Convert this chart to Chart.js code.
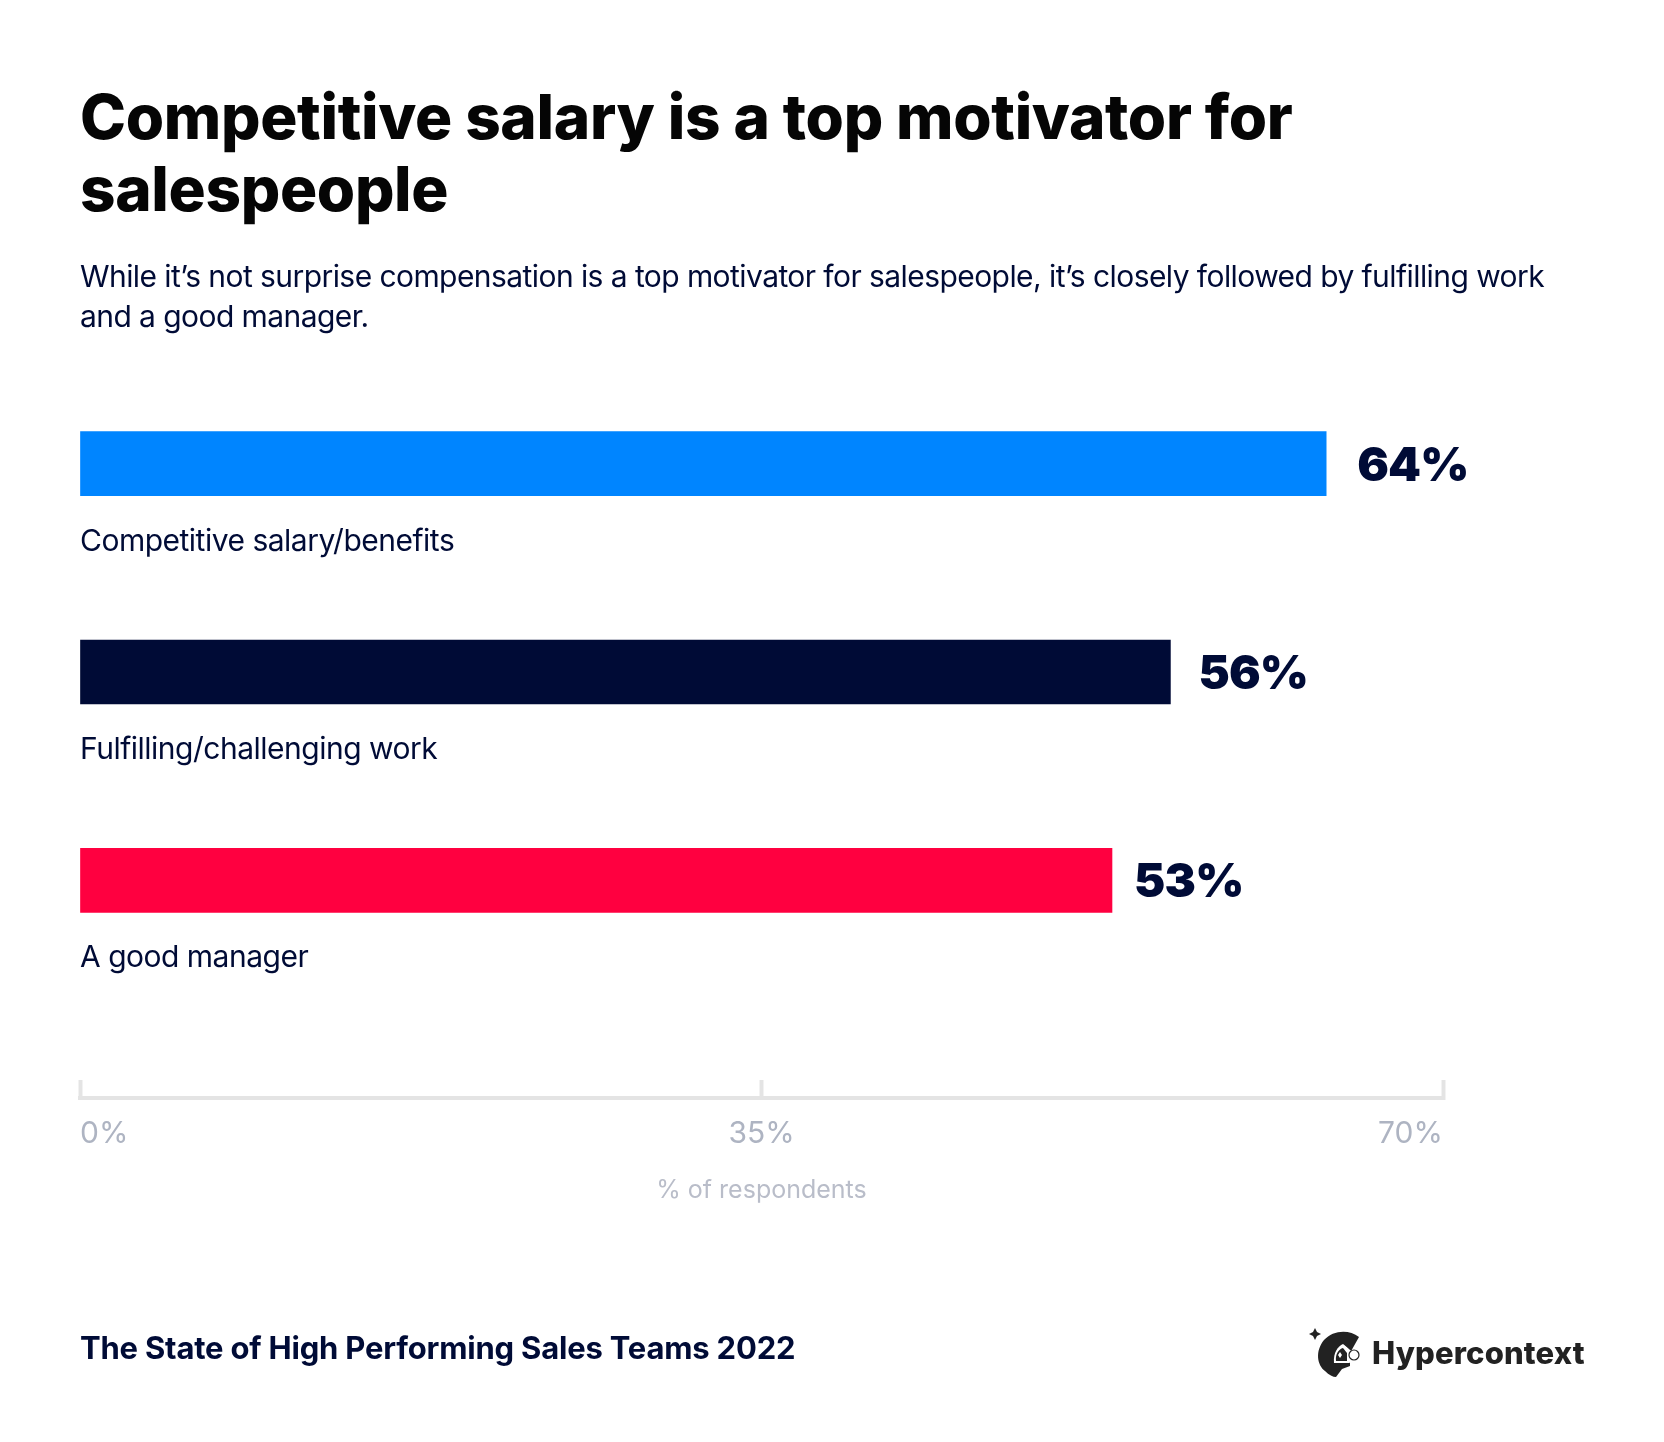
<!DOCTYPE html>
<html>
<head>
<meta charset="utf-8">
<script src="https://cdn.jsdelivr.net/npm/chart.js@4"></script>
<style>
  html, body { margin: 0; padding: 0; background: #fff; }
  #page { position: relative; width: 1664px; height: 1442px; overflow: hidden; font-family: Inter, sans-serif; color: #000b36; }
  #page div { position: absolute; white-space: nowrap; }
  canvas { position: absolute; left: 0; top: 0; }
  #title { left: 80px; top: 80.5px; font-size: 62px; line-height: 72px; font-weight: 800; color: #050505; letter-spacing: -0.33px; }
  #subtitle { left: 80px; top: 256px; font-size: 30px; line-height: 40px; letter-spacing: -0.57px; }
  #source { left: 80px; top: 1328px; font-size: 31px; line-height: 40px; font-weight: 700; letter-spacing: -0.2px; }
  #brand { left: 1372px; top: 1333px; font-size: 31px; line-height: 40px; font-weight: 800; letter-spacing: 0.15px; color: #222; }
  svg { position: absolute; left: 1305px; top: 1325px; }
</style>
</head>
<body>
<div id="page">
  <canvas id="barChart" width="1664" height="1442"></canvas>
  <div id="title">Competitive salary is a top motivator for<br>salespeople</div>
  <div id="subtitle">While it’s not surprise compensation is a top motivator for salespeople, it’s closely followed by fulfilling work<br>and a good manager.</div>
  <div id="source">The State of High Performing Sales Teams 2022</div>
  <svg width="80" height="70" viewBox="0 0 80 70">
    <path d="M10 3 L12 7 L16 9 L12 11 L10 15 L8 11 L4 9 L8 7 Z" fill="#222"/>
    <path d="M54 12 C44 4 28 5 19 15 C10 26 12 40 20 46 C24 50 28 52 31 52 L37 44 L45 41 L45 28 Z" fill="#222"/>
    <path d="M29 38 C28 28 33 21 38 19 L47 26 L47 37 L44 38 Z" fill="#fff"/>
    <path d="M31 36 C30 29 34 24 38 23 L42 28 L42 36 Z" fill="#222"/>
    <path d="M35 27 L37 30 L35 33 L33 30 Z" fill="#fff"/>
    <path d="M38 17 L46 25" stroke="#222" stroke-width="1.2"/>
    <circle cx="49" cy="30" r="5" fill="#fff" stroke="#222" stroke-width="1.2"/>
  </svg>
  <div id="brand">Hypercontext</div>
</div>
<script>
const categories = ['Competitive salary/benefits', 'Fulfilling/challenging work', 'A good manager'];
const respondents = [64, 56, 53];
const barColors = ['#0085ff', '#000b36', '#ff0040'];
const tickValues = [0, 35, 70];
const axisTitle = '% of respondents';

// category names under the bars and the big percentages to the right
const labelGap = [31, 28, 22];
const barLabels = {
  id: 'barLabels',
  afterDatasetsDraw(chart) {
    const { ctx, scales } = chart;
    ctx.save();
    categories.forEach((name, i) => {
      const end = scales.x.getPixelForValue(respondents[i]);
      const mid = scales.y.getPixelForValue(i);
      ctx.fillStyle = '#000b36';
      ctx.textBaseline = 'middle';
      ctx.letterSpacing = '-0.8px';
      ctx.font = '900 47px Inter';
      ctx.fillText(respondents[i] + '%', end + labelGap[i], mid + 3);
      ctx.letterSpacing = '-0.5px';
      ctx.font = '30px Inter';
      ctx.fillText(name, scales.x.getPixelForValue(0), mid + 78);
    });
    ctx.restore();
  }
};

new Chart(document.getElementById('barChart').getContext('2d'), {
  type: 'bar',
  data: {
    datasets: [{
      data: respondents.map((v, i) => ({ x: v, y: i })),
      backgroundColor: barColors,
      barThickness: 64
    }]
  },
  plugins: [barLabels],
  options: {
    indexAxis: 'y',
    responsive: false,
    animation: false,
    layout: { padding: { left: 80, right: 221, top: 359.5, bottom: 0 } },
    plugins: { legend: { display: false }, tooltip: { enabled: false } },
    scales: {
      y: { type: 'linear', display: false, offset: false, reverse: true, min: -0.5, max: 3.045 },
      x: {
        min: 0,
        max: 70,
        afterFit: s => { s.height = 344; },
        afterBuildTicks: s => { s.ticks = tickValues.map(value => ({ value })); },
        border: { color: '#e4e4e4', width: 4 },
        grid: { drawOnChartArea: false, tickLength: -18, tickWidth: 4, tickColor: '#e4e4e4' },
        ticks: {
          align: 'inner',
          maxRotation: 0,
          padding: 36,
          labelOffset: 0,
          color: '#aeb4c2',
          font: { family: 'Inter', size: 30 },
          callback: v => v + '%'
        },
        title: {
          display: true,
          text: axisTitle,
          color: '#b9bdc9',
          font: { family: 'Inter', size: 25 },
          padding: { top: 0, bottom: 237 }
        }
      }
    }
  }
});
</script>
</body>
</html>
